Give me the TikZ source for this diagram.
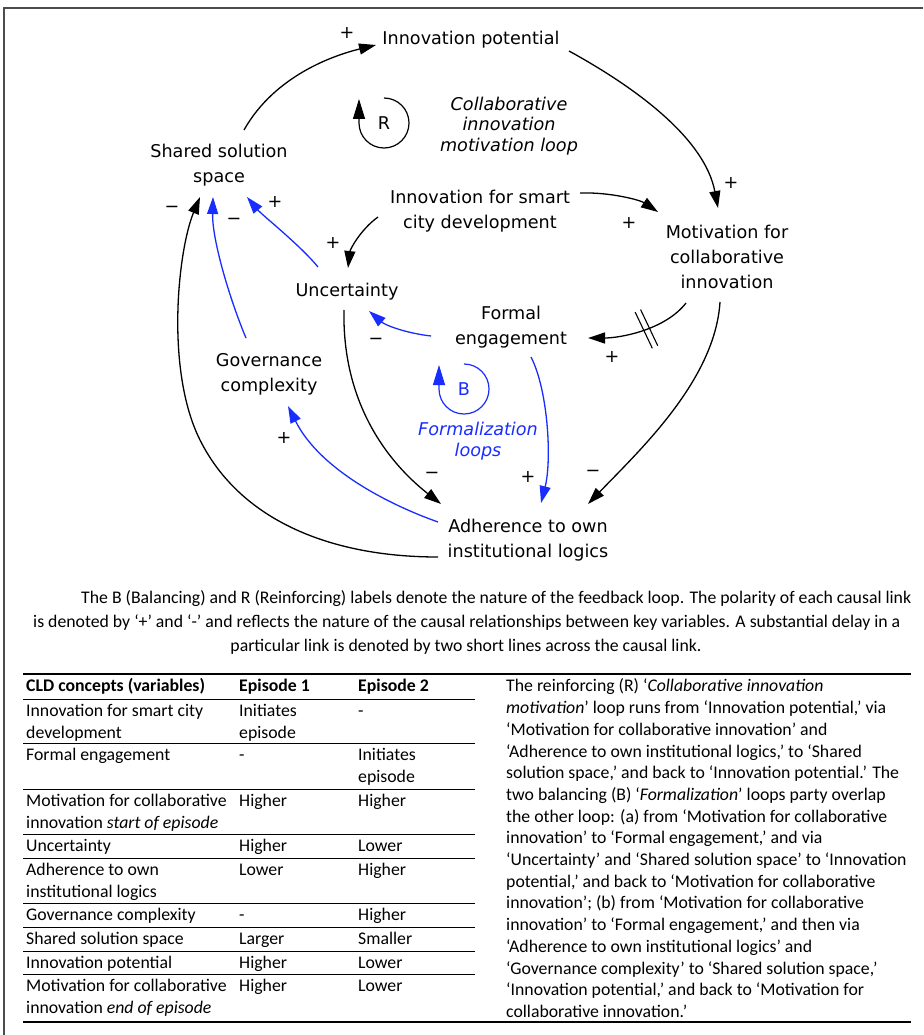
\documentclass[tikz,border=0pt]{standalone}
\usepackage{fontspec}
\setmainfont{Carlito}
\newfontfamily\djv{DejaVu Sans}
\usetikzlibrary{arrows.meta,calc}
\definecolor{cldblue}{RGB}{25,45,255}
\begin{document}
\begin{tikzpicture}[x=1pt,y=-1pt,
  lbl/.style={font=\djv\fontsize{17.6}{25}\selectfont, align=center, inner sep=1pt},
  ilbl/.style={font=\djv\itshape\fontsize{17.6}{20.5}\selectfont, align=center, inner sep=1pt},
  pm/.style={font=\djv\fontsize{17.6}{20}\selectfont, inner sep=0pt},
  link/.style={line width=1.3pt, -{Triangle[length=17pt,width=11pt]}},
  blink/.style={link, color=cldblue},
  loopline/.style={line width=1.2pt, -{Triangle[length=20pt,width=12pt]}},
  cell/.style={anchor=north west, inner sep=0pt, align=left, font=\fontsize{17.75}{21.7}\selectfont},
  hcell/.style={cell, font=\bfseries\fontsize{17.75}{21.7}\selectfont},
  capline/.style={inner sep=0pt, font=\fontsize{17.75}{23.5}\selectfont},
  rule/.style={line width=0.9pt},
  thickrule/.style={line width=1.6pt},
  frame/.style={line width=1.5pt, draw=gray!60!black},
]
\useasboundingbox (0,0) rectangle (923,1035);
\fill[white] (0,0) rectangle (923,1035);
\draw[frame] (4,1035) -- (4,8) -- (923,8);

% ---------- variables ----------
\node[lbl] (ip)  at (471,40)  {Innovation potential};
\node[ilbl] (coll) at (509,126) {Collaborative\\innovation\\motivation loop};
\node[lbl] (ssp) at (219,165) {Shared solution\\space};
\node[lbl] (ism) at (480,211) {Innovation for smart\\city development};
\node[lbl] (mot) at (727,257) {Motivation for\\collaborative\\innovation};
\node[lbl] (unc) at (347,292) {Uncertainty};
\node[lbl] (fe)  at (511,327) {Formal\\engagement};
\node[lbl] (gc)  at (269,374) {Governance\\complexity};
\node[ilbl, text=cldblue] (fl) at (478,441) {Formalization\\loops};
\node[lbl] (adh) at (528,540) {Adherence to own\\institutional logics};

% ---------- loop markers ----------
\node[lbl] (R) at (384,123) {R};
\draw[loopline] ($(R)+(0,-25)$) arc[start angle=-90, end angle=180, radius=25] -- ++(0,-24);
\node[lbl, text=cldblue] (B) at (464,389) {B};
\draw[loopline, color=cldblue] ($(B)+(0,-25)$) arc[start angle=-90, end angle=180, radius=25] -- ++(0,-24);

% ---------- black links ----------
\draw[link] ($(ssp)+(25,-35)$) .. controls +(31,-55) and +(-41,10) .. ($(ip)+(-95,5)$);
\draw[link] ($(ip)+(98,11)$) .. controls +(71,39) and +(-13,-68) .. ($(mot)+(-9,-49)$);
\draw[link] ($(ism)+(100,-18)$) .. controls +(30,-1) and +(-18,-12) .. ($(mot)+(-69,-45)$);
\draw[link] ($(ism)+(-102,6)$) .. controls +(-18,13) and +(2,-18) .. ($(unc)+(1,-24)$);
\draw[link] ($(mot)+(-41,46)$) .. controls +(-21,27) and +(32,0) .. coordinate[pos=0.45] (dly) ($(fe)+(77,11)$);
\draw[line width=1.1pt] ($(dly)+(-5.9,-19.4)$) -- ($(dly)+(11.3,16.8)$);
\draw[line width=1.1pt] ($(dly)+(-11.3,-16.8)$) -- ($(dly)+(5.9,19.4)$);
\draw[link] ($(mot)+(-7,45)$) .. controls +(-5,78) and +(52,-54) .. ($(adh)+(60,-36)$);
\draw[link] ($(unc)+(-3,18)$) .. controls +(-2,90) and +(-56,-44) .. ($(adh)+(-87,-36)$);
\draw[link] ($(adh)+(-90,17)$) .. controls +(-108,0) and +(40,80) .. ($(adh)+(-328,-100)$)
   .. controls +(-35,-70) and +(-22,53) .. ($(ssp)+(-19,32)$);

% ---------- blue links ----------
\draw[blink] ($(unc)+(-29,-25)$) .. controls +(-18,-22) and +(15,18) .. ($(ssp)+(28,32)$);
\draw[blink] ($(gc)+(-23,-36)$) .. controls +(-16,-38) and +(-1,43) .. ($(ssp)+(-6,32)$);
\draw[blink] ($(fe)+(-80,9)$) .. controls +(-26,-3) and +(16,14) .. ($(unc)+(22,19)$);
\draw[blink] ($(fe)+(20,30)$) .. controls +(17,33) and +(11,-43) .. ($(adh)+(13,-37)$);
\draw[blink] ($(adh)+(-90,-18)$) .. controls +(-48,-17) and +(32,64) .. ($(gc)+(19,32)$);

% ---------- polarities ----------
\node[pm] (p1)  at (347,33)  {+};
\node[pm] (p2)  at (731,183) {+};
\node[pm] (p3)  at (629,223) {+};
\node[pm] (p4)  at (333,243) {+};
\node[pm] (p5)  at (612,357) {+};
\node[pm] (m6)  at (593,473) {−};
\node[pm] (m7)  at (432,475) {−};
\node[pm] (m8)  at (172,209) {−};
\node[pm] (p9)  at (275,202) {+};
\node[pm] (m10) at (234,221) {−};
\node[pm] (m11) at (376,341) {−};
\node[pm] (p12) at (528,477) {+};
\node[pm] (p13) at (284,438) {+};

% ---------- caption ----------
\node[capline, anchor=base west] (cap1) at (81,603.5) {The B (Balancing) and R (Reinforcing) labels denote the nature of the feedback loop. The polarity of each causal link};
\node[capline, anchor=base west] (cap2) at (33,627.5) {is denoted by ‘+’ and ‘-’ and reflects the nature of the causal relationships between key variables. A substantial delay in a};
\node[capline, anchor=base] (cap3) at (466,651) {particular link is denoted by two short lines across the causal link.};

% ---------- table rules ----------
\draw[thickrule] (23,674) -- (911,674);
\draw[rule] (23,699) -- (475,699);
\draw[rule] (23,743) -- (475,743);
\draw[rule] (23,789) -- (475,789);
\draw[rule] (23,834) -- (475,834);
\draw[rule] (23,858) -- (475,858);
\draw[rule] (23,903) -- (475,903);
\draw[rule] (23,927) -- (475,927);
\draw[rule] (23,951) -- (475,951);
\draw[rule] (23,974) -- (475,974);
\draw[thickrule] (23,1022) -- (911,1022);

% ---------- table cells ----------
\node[hcell] (h1) at (26,676.5)  {\strut CLD concepts (variables)};
\node[hcell] (h2) at (239,676.5) {\strut Episode 1};
\node[hcell] (h3) at (358,676.5) {\strut Episode 2};

\node[cell] (a1) at (26,701.5)  {\strut Innovation for smart city\\development};
\node[cell] (b1) at (239,701.5) {\strut Initiates\\episode};
\node[cell] (c1) at (358,701.5) {\strut -};

\node[cell] (a2) at (26,745.5)  {\strut Formal engagement};
\node[cell] (b2) at (239,745.5) {\strut -};
\node[cell] (c2) at (358,745.5) {\strut Initiates\\episode};

\node[cell] (a3) at (26,791.5)  {\strut Motivation for collaborative\\innovation \textit{start of episode}};
\node[cell] (b3) at (239,791.5) {\strut Higher};
\node[cell] (c3) at (358,791.5) {\strut Higher};

\node[cell] (a4) at (26,836.5)  {\strut Uncertainty};
\node[cell] (b4) at (239,836.5) {\strut Higher};
\node[cell] (c4) at (358,836.5) {\strut Lower};

\node[cell] (a5) at (26,860.5)  {\strut Adherence to own\\institutional logics};
\node[cell] (b5) at (239,860.5) {\strut Lower};
\node[cell] (c5) at (358,860.5) {\strut Higher};

\node[cell] (a6) at (26,905.5)  {\strut Governance complexity};
\node[cell] (b6) at (239,905.5) {\strut -};
\node[cell] (c6) at (358,905.5) {\strut Higher};

\node[cell] (a7) at (26,929.5)  {\strut Shared solution space};
\node[cell] (b7) at (239,929.5) {\strut Larger};
\node[cell] (c7) at (358,929.5) {\strut Smaller};

\node[cell] (a8) at (26,953.5)  {\strut Innovation potential};
\node[cell] (b8) at (239,953.5) {\strut Higher};
\node[cell] (c8) at (358,953.5) {\strut Lower};

\node[cell] (a9) at (26,976.5)  {\strut Motivation for collaborative\\innovation \textit{end of episode}};
\node[cell] (b9) at (239,976.5) {\strut Higher};
\node[cell] (c9) at (358,976.5) {\strut Lower};

% ---------- right column ----------
\node[cell] (desc) at (506,676.5) {\strut The reinforcing (R) ‘\textit{Collaborative innovation}\\
\textit{motivation}’ loop runs from ‘Innovation potential,’ via\\
‘Motivation for collaborative innovation’ and\\
‘Adherence to own institutional logics,’ to ‘Shared\\
solution space,’ and back to ‘Innovation potential.’ The\\
two balancing (B) ‘\textit{Formalization}’ loops party overlap\\
the other loop: (a) from ‘Motivation for collaborative\\
innovation’ to ‘Formal engagement,’ and via\\
‘Uncertainty’ and ‘Shared solution space’ to ‘Innovation\\
potential,’ and back to ‘Motivation for collaborative\\
innovation’; (b) from ‘Motivation for collaborative\\
innovation’ to ‘Formal engagement,’ and then via\\
‘Adherence to own institutional logics’ and\\
‘Governance complexity’ to ‘Shared solution space,’\\
‘Innovation potential,’ and back to ‘Motivation for\\
collaborative innovation.’};
\end{tikzpicture}
\end{document}
